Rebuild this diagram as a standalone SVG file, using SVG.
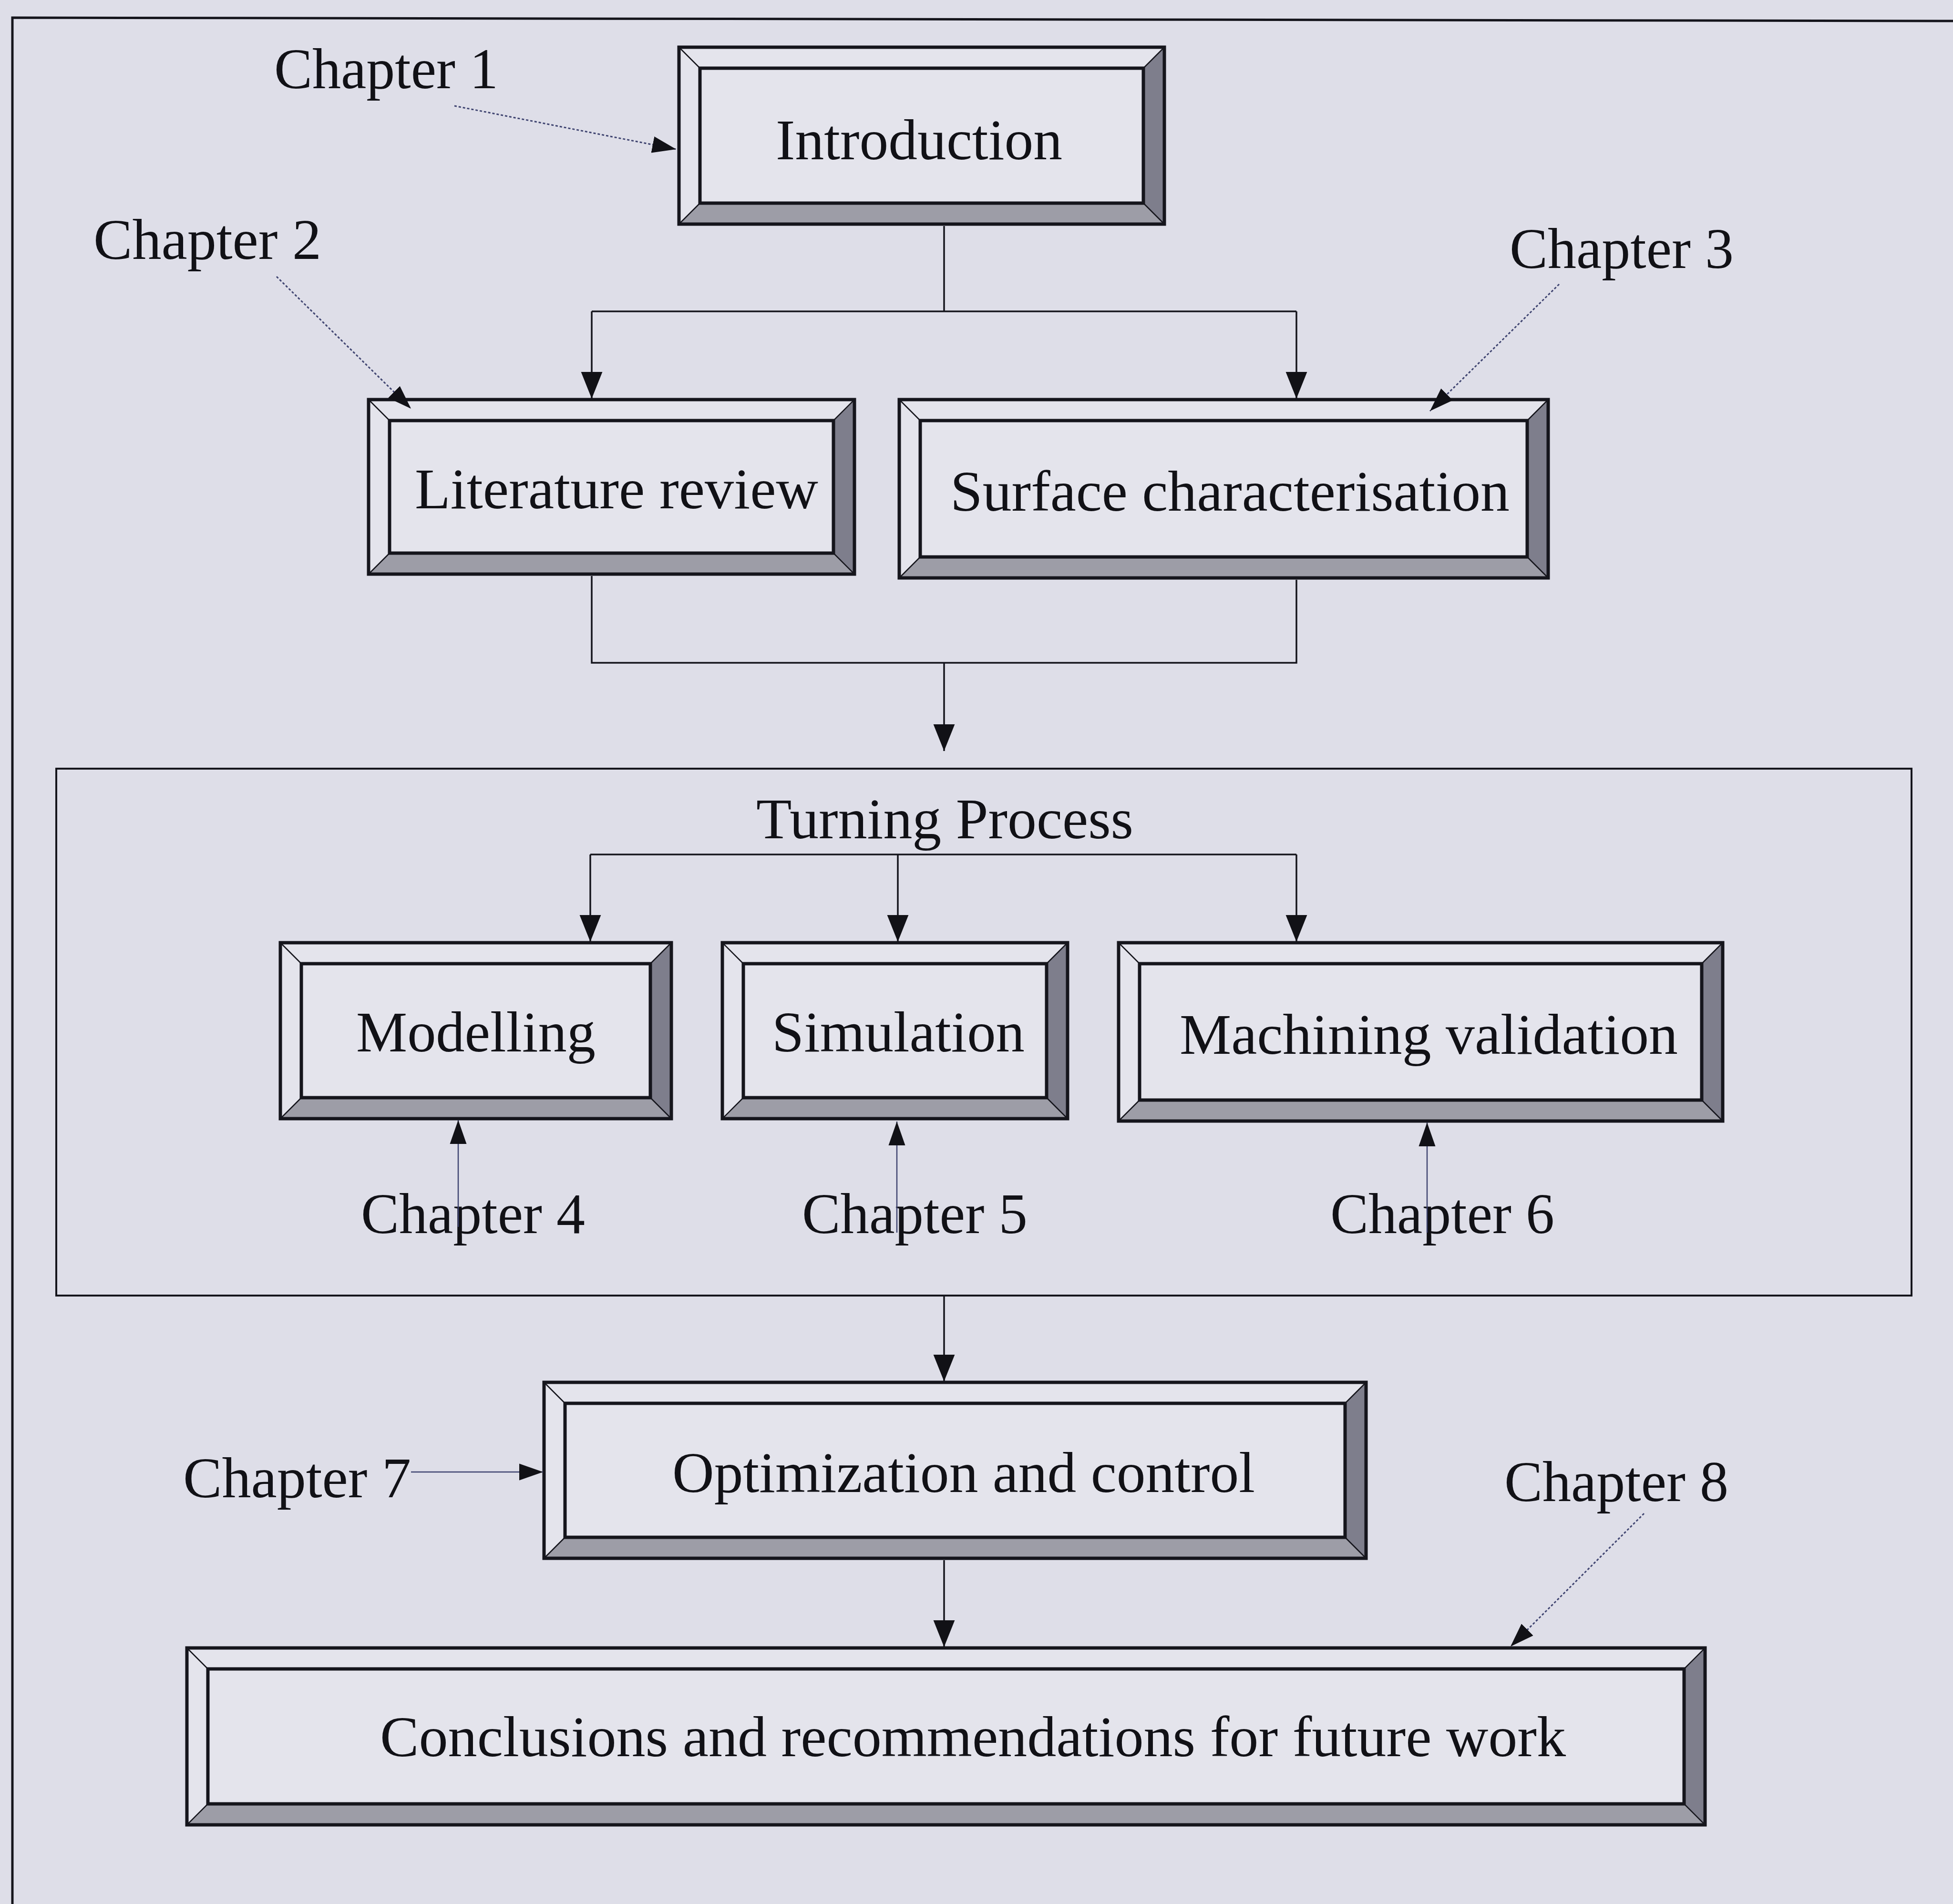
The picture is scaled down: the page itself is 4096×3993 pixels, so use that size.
<svg xmlns="http://www.w3.org/2000/svg" width="4096" height="3993" viewBox="0 0 4096 3993">
  <defs>
    <style>
      .bg { fill: #dedee8; }
      .frame { fill: none; stroke: #15151c; stroke-width: 5; }
      .outer { fill: none; stroke: #15151c; stroke-width: 7; }
      .inner { fill: #e4e4ec; stroke: #15151c; stroke-width: 7; }
      .shade-r { fill: #7e7e8c; }
      .shade-b { fill: #9d9da7; }
      .bevel { stroke: #15151c; stroke-width: 2.5; fill: none; }
      .wire { fill: none; stroke: #15151c; stroke-width: 3.5; }
      .ptr { fill: none; stroke: #3f4470; stroke-width: 2.5; }
      .ptr-dash { fill: none; stroke: #3f4470; stroke-width: 3; stroke-dasharray: 5 4; }
      text { font-family: "Liberation Serif", "Times New Roman", serif; font-size: 120px; fill: #111116; }
    </style>
    <!-- pointer arrowhead, fixed size -->
    <marker id="head" viewBox="0 0 10 10" refX="10" refY="5" markerWidth="50" markerHeight="50" markerUnits="userSpaceOnUse" orient="auto">
      <path d="M0,1.5 L10,5 L0,8.5 Z" fill="#111116"/>
    </marker>
    <!-- flow arrowhead, scales with stroke -->
    <marker id="head-s" viewBox="0 0 10 10" refX="10" refY="5" markerWidth="16" markerHeight="16" markerUnits="strokeWidth" orient="auto">
      <path d="M0,1 L10,5 L0,9 Z" fill="#111116"/>
    </marker>
  </defs>

  <rect class="bg" x="0" y="0" width="4096" height="3993"/>

  <!-- page frame -->
  <polyline class="frame" points="26,3993 26,37 4096,44"/>

  <!-- Turning Process container -->
  <g id="turning-process">
    <rect x="118" y="1612" width="3891" height="1105" fill="none" stroke="#15151c" stroke-width="4"/>
    <text x="1586" y="1758" textLength="791" lengthAdjust="spacingAndGlyphs">Turning Process</text>
  </g>

  <!-- Introduction -->
  <g id="introduction">
    <rect x="1424" y="99" width="1018" height="371" fill="#e4e4ec"/>
    <polygon class="shade-r" points="2442,99 2442,470 2398,426 2398,143"/>
    <polygon class="shade-b" points="1424,470 2442,470 2398,426 1468,426"/>
    <path class="bevel" d="M1424,99 L1468,143 M2442,99 L2398,143 M1424,470 L1468,426 M2442,470 L2398,426"/>
    <rect class="inner" x="1468" y="143" width="930" height="283"/>
    <rect class="outer" x="1424" y="99" width="1018" height="371"/>
    <text x="1627" y="334" textLength="601" lengthAdjust="spacingAndGlyphs">Introduction</text>
  </g>

  <!-- Literature review -->
  <g id="literature-review">
    <rect x="773" y="838" width="1019" height="366" fill="#e4e4ec"/>
    <polygon class="shade-r" points="1792,838 1792,1204 1748,1160 1748,882"/>
    <polygon class="shade-b" points="773,1204 1792,1204 1748,1160 817,1160"/>
    <path class="bevel" d="M773,838 L817,882 M1792,838 L1748,882 M773,1204 L817,1160 M1792,1204 L1748,1160"/>
    <rect class="inner" x="817" y="882" width="931" height="278"/>
    <rect class="outer" x="773" y="838" width="1019" height="366"/>
    <text x="870" y="1066" textLength="846" lengthAdjust="spacingAndGlyphs">Literature review</text>
  </g>

  <!-- Surface characterisation -->
  <g id="surface-characterisation">
    <rect x="1886" y="838" width="1361" height="374" fill="#e4e4ec"/>
    <polygon class="shade-r" points="3247,838 3247,1212 3203,1168 3203,882"/>
    <polygon class="shade-b" points="1886,1212 3247,1212 3203,1168 1930,1168"/>
    <path class="bevel" d="M1886,838 L1930,882 M3247,838 L3203,882 M1886,1212 L1930,1168 M3247,1212 L3203,1168"/>
    <rect class="inner" x="1930" y="882" width="1273" height="286"/>
    <rect class="outer" x="1886" y="838" width="1361" height="374"/>
    <text x="1993" y="1071" textLength="1173" lengthAdjust="spacingAndGlyphs">Surface characterisation</text>
  </g>

  <!-- Modelling -->
  <g id="modelling">
    <rect x="588" y="1977" width="820" height="369" fill="#e4e4ec"/>
    <polygon class="shade-r" points="1408,1977 1408,2346 1364,2302 1364,2021"/>
    <polygon class="shade-b" points="588,2346 1408,2346 1364,2302 632,2302"/>
    <path class="bevel" d="M588,1977 L632,2021 M1408,1977 L1364,2021 M588,2346 L632,2302 M1408,2346 L1364,2302"/>
    <rect class="inner" x="632" y="2021" width="732" height="281"/>
    <rect class="outer" x="588" y="1977" width="820" height="369"/>
    <text x="747" y="2205" textLength="502" lengthAdjust="spacingAndGlyphs">Modelling</text>
  </g>

  <!-- Simulation -->
  <g id="simulation">
    <rect x="1515" y="1977" width="724" height="369" fill="#e4e4ec"/>
    <polygon class="shade-r" points="2239,1977 2239,2346 2195,2302 2195,2021"/>
    <polygon class="shade-b" points="1515,2346 2239,2346 2195,2302 1559,2302"/>
    <path class="bevel" d="M1515,1977 L1559,2021 M2239,1977 L2195,2021 M1515,2346 L1559,2302 M2239,2346 L2195,2302"/>
    <rect class="inner" x="1559" y="2021" width="636" height="281"/>
    <rect class="outer" x="1515" y="1977" width="724" height="369"/>
    <text x="1619" y="2205" textLength="530" lengthAdjust="spacingAndGlyphs">Simulation</text>
  </g>

  <!-- Machining validation -->
  <g id="machining-validation">
    <rect x="2346" y="1977" width="1267" height="374" fill="#e4e4ec"/>
    <polygon class="shade-r" points="3613,1977 3613,2351 3569,2307 3569,2021"/>
    <polygon class="shade-b" points="2346,2351 3613,2351 3569,2307 2390,2307"/>
    <path class="bevel" d="M2346,1977 L2390,2021 M3613,1977 L3569,2021 M2346,2351 L2390,2307 M3613,2351 L3569,2307"/>
    <rect class="inner" x="2390" y="2021" width="1179" height="286"/>
    <rect class="outer" x="2346" y="1977" width="1267" height="374"/>
    <text x="2474" y="2210" textLength="1045" lengthAdjust="spacingAndGlyphs">Machining validation</text>
  </g>

  <!-- Optimization and control -->
  <g id="optimization-control">
    <rect x="1141" y="2899" width="1724" height="369" fill="#e4e4ec"/>
    <polygon class="shade-r" points="2865,2899 2865,3268 2821,3224 2821,2943"/>
    <polygon class="shade-b" points="1141,3268 2865,3268 2821,3224 1185,3224"/>
    <path class="bevel" d="M1141,2899 L1185,2943 M2865,2899 L2821,2943 M1141,3268 L1185,3224 M2865,3268 L2821,3224"/>
    <rect class="inner" x="1185" y="2943" width="1636" height="281"/>
    <rect class="outer" x="1141" y="2899" width="1724" height="369"/>
    <text x="1410" y="3129" textLength="1222" lengthAdjust="spacingAndGlyphs">Optimization and control</text>
  </g>

  <!-- Conclusions and recommendations -->
  <g id="conclusions">
    <rect x="392" y="3456" width="3184" height="371" fill="#e4e4ec"/>
    <polygon class="shade-r" points="3576,3456 3576,3827 3532,3783 3532,3500"/>
    <polygon class="shade-b" points="392,3827 3576,3827 3532,3783 436,3783"/>
    <path class="bevel" d="M392,3456 L436,3500 M3576,3456 L3532,3500 M392,3827 L436,3783 M3576,3827 L3532,3783"/>
    <rect class="inner" x="436" y="3500" width="3096" height="283"/>
    <rect class="outer" x="392" y="3456" width="3184" height="371"/>
    <text x="797" y="3683" textLength="2487" lengthAdjust="spacingAndGlyphs">Conclusions and recommendations for future work</text>
  </g>

  <!-- chapter labels -->
  <g id="chapter-1"><text x="575" y="185" textLength="470" lengthAdjust="spacingAndGlyphs">Chapter 1</text></g>
  <g id="chapter-2"><text x="196" y="543" textLength="478" lengthAdjust="spacingAndGlyphs">Chapter 2</text></g>
  <g id="chapter-3"><text x="3166" y="562" textLength="470" lengthAdjust="spacingAndGlyphs">Chapter 3</text></g>
  <g id="chapter-4"><text x="757" y="2586" textLength="470" lengthAdjust="spacingAndGlyphs">Chapter 4</text></g>
  <g id="chapter-5"><text x="1682" y="2586" textLength="473" lengthAdjust="spacingAndGlyphs">Chapter 5</text></g>
  <g id="chapter-6"><text x="2790" y="2586" textLength="470" lengthAdjust="spacingAndGlyphs">Chapter 6</text></g>
  <g id="chapter-7"><text x="384" y="3140" textLength="478" lengthAdjust="spacingAndGlyphs">Chapter 7</text></g>
  <g id="chapter-8"><text x="3155" y="3148" textLength="470" lengthAdjust="spacingAndGlyphs">Chapter 8</text></g>

  <!-- connectors -->
  <g id="connectors">
    <!-- Introduction to the two review boxes -->
    <polyline class="wire" points="1980,474 1980,653"/>
    <polyline class="wire" points="1241,653 2719,653"/>
    <line class="wire" x1="1241" y1="653" x2="1241" y2="836" marker-end="url(#head-s)"/>
    <line class="wire" x1="2719" y1="653" x2="2719" y2="836" marker-end="url(#head-s)"/>
    <!-- merge into Turning Process -->
    <polyline class="wire" points="1241,1208 1241,1390 2719,1390 2719,1216"/>
    <line class="wire" x1="1980" y1="1390" x2="1980" y2="1575" marker-end="url(#head-s)"/>
    <!-- Turning Process bus -->
    <polyline class="wire" points="1238,1792 2719,1792"/>
    <line class="wire" x1="1238" y1="1792" x2="1238" y2="1975" marker-end="url(#head-s)"/>
    <line class="wire" x1="1883" y1="1792" x2="1883" y2="1975" marker-end="url(#head-s)"/>
    <line class="wire" x1="2719" y1="1792" x2="2719" y2="1975" marker-end="url(#head-s)"/>
    <!-- to Optimization and control -->
    <line class="wire" x1="1980" y1="2719" x2="1980" y2="2897" marker-end="url(#head-s)"/>
    <!-- to Conclusions -->
    <line class="wire" x1="1980" y1="3272" x2="1980" y2="3454" marker-end="url(#head-s)"/>

    <!-- chapter pointers -->
    <line class="ptr-dash" x1="953" y1="222" x2="1418" y2="313" marker-end="url(#head)"/>
    <line class="ptr-dash" x1="580" y1="580" x2="862" y2="857" marker-end="url(#head)"/>
    <line class="ptr-dash" x1="3270" y1="596" x2="2999" y2="862" marker-end="url(#head)"/>
    <line class="ptr" x1="961" y1="2573" x2="961" y2="2349" marker-end="url(#head)"/>
    <line class="ptr" x1="1881" y1="2585" x2="1881" y2="2352" marker-end="url(#head)"/>
    <line class="ptr" x1="2993" y1="2585" x2="2993" y2="2354" marker-end="url(#head)"/>
    <line class="ptr" x1="862" y1="3087" x2="1139" y2="3087" marker-end="url(#head)"/>
    <line class="ptr-dash" x1="3448" y1="3174" x2="3168" y2="3453" marker-end="url(#head)"/>
  </g>
</svg>
